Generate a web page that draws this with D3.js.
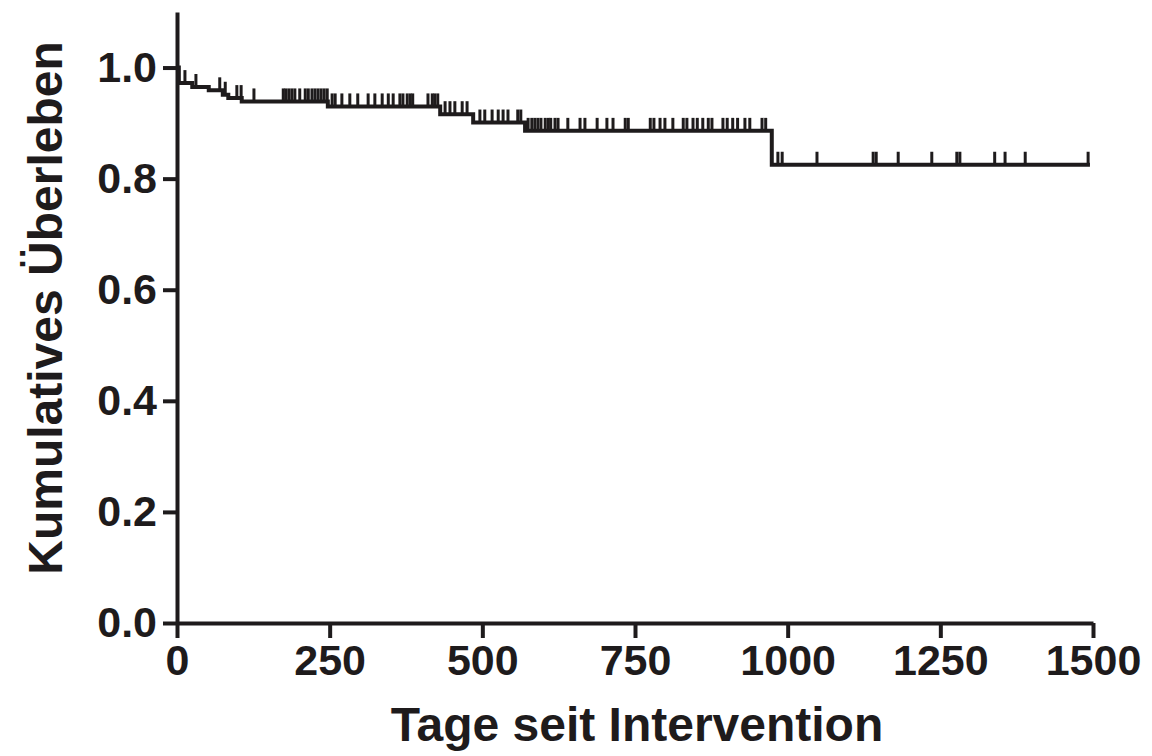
<!DOCTYPE html>
<html>
<head>
<meta charset="utf-8">
<script src="https://cdn.jsdelivr.net/npm/d3@7"></script>
<style>
  body { margin: 0; background: #fff; }
  text { font-family: "Liberation Sans", Arial, sans-serif; font-weight: bold; fill: #1e1b1c; }
</style>
</head>
<body>
<div id="chart"></div>
<script>
// Kaplan-Meier steps: day where survival drops and the level after the drop
var stepDays = [0, 3, 25, 52, 75, 84, 106, 247, 431, 485, 570, 974];
var stepSurv = [1.0, 0.972, 0.965, 0.959, 0.951, 0.945, 0.939, 0.930, 0.916, 0.901, 0.886, 0.825];
var lastDay = 1495;

// censored observations (days)
var censorDays = [13, 31, 70, 79, 98, 105, 126, 174, 178, 183, 188, 193, 201, 210, 215, 221, 226, 231, 236, 241, 246,
  254, 259, 270, 283, 296, 313, 324, 336, 346, 354, 365, 370, 377, 382, 386, 411, 418, 422, 427,
  439, 447, 455, 467, 475,
  496, 504, 516, 526, 534, 542, 558, 563,
  575, 581, 586, 591, 596, 603, 608, 612, 619, 624, 640, 660, 668, 688, 704, 714, 734, 739,
  775, 781, 791, 799, 812, 829, 835, 845, 852, 861, 870, 876, 894, 901, 910, 918, 930, 938, 958, 964,
  984, 991, 1048, 1140, 1145, 1181, 1236, 1277, 1282, 1339, 1356, 1389, 1492];

var xTicks = [0, 250, 500, 750, 1000, 1250, 1500];
var yTicks = [0, 0.2, 0.4, 0.6, 0.8, 1.0];
var xTitle = "Tage seit Intervention";
var yTitle = "Kumulatives Überleben";

var width = 1152, height = 756;
var ink = "#1e1b1c";

var svg = d3.select("#chart").append("svg")
    .attr("width", width)
    .attr("height", height);

var x = d3.scaleLinear().domain([0, 1500]).range([177, 1093]);
var y = d3.scaleLinear().domain([0, 1.1]).range([623, 12]);

// survival at a given day
function survAt(day) {
    var s = stepSurv[0];
    for (var i = 0; i < stepDays.length; i++) {
        if (stepDays[i] <= day) s = stepSurv[i];
    }
    return s;
}

var pts = stepDays.map(function (d, i) { return [d, stepSurv[i]]; });
pts.push([lastDay, survAt(lastDay)]);

var line = d3.line()
    .x(function (d) { return x(d[0]); })
    .y(function (d) { return y(d[1]); })
    .curve(d3.curveStepAfter);

svg.append("path")
    .datum(pts)
    .attr("d", line)
    .attr("fill", "none")
    .attr("stroke", ink)
    .attr("stroke-width", 4);

svg.selectAll(".censor")
    .data(censorDays)
    .enter()
    .append("line")
    .attr("class", "censor")
    .attr("x1", function (d) { return x(d); })
    .attr("x2", function (d) { return x(d); })
    .attr("y1", function (d) { return y(survAt(d)); })
    .attr("y2", function (d) { return y(survAt(d)) - 13; })
    .attr("stroke", ink)
    .attr("stroke-width", 3);

// axes
var xAxis = d3.axisBottom(x).tickValues(xTicks).tickSize(15).tickSizeOuter(0).tickPadding(6)
    .tickFormat(d3.format("d"));
var yAxis = d3.axisLeft(y).tickValues(yTicks).tickSize(14).tickSizeOuter(0).tickPadding(6)
    .tickFormat(d3.format(".1f"));

var gx = svg.append("g").attr("transform", "translate(0,623)").call(xAxis);
var gy = svg.append("g").attr("transform", "translate(177,0)").call(yAxis);

[gx, gy].forEach(function (g) {
    g.select(".domain").attr("stroke", ink).attr("stroke-width", 4);
    g.selectAll(".tick line").attr("stroke", ink).attr("stroke-width", 4);
    g.selectAll(".tick text")
        .attr("fill", ink)
        .style("font-size", "43px")
        .style("font-family", "'Liberation Sans', Arial, sans-serif")
        .style("font-weight", "bold");
});

svg.append("text")
    .attr("x", 637)
    .attr("y", 741)
    .attr("text-anchor", "middle")
    .style("font-size", "48px")
    .text(xTitle);

svg.append("text")
    .attr("transform", "translate(62,308) rotate(-90)")
    .attr("text-anchor", "middle")
    .style("font-size", "48px")
    .text(yTitle);
</script>
</body>
</html>
